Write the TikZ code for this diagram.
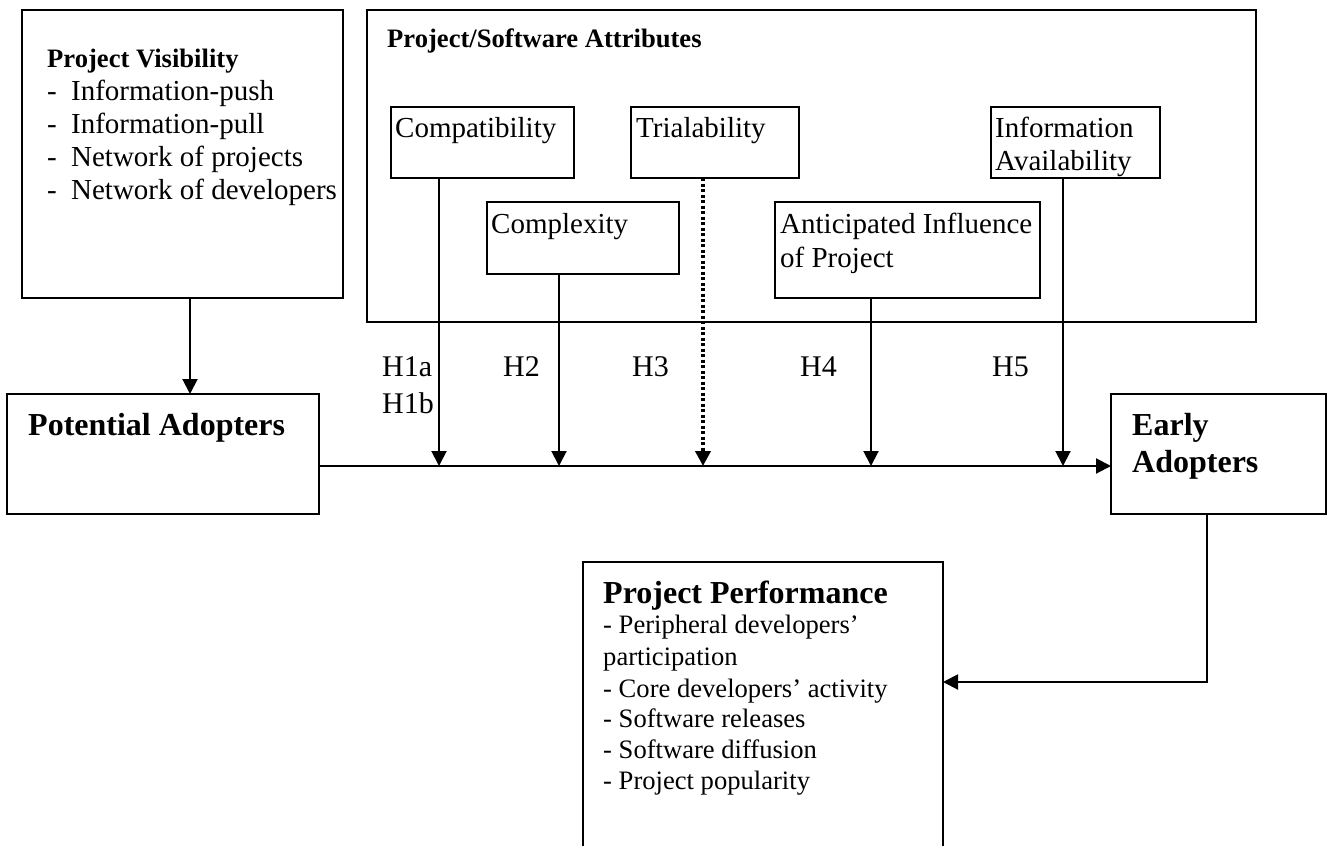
\documentclass[tikz,border=0pt]{standalone}
\usepackage{fontspec}
\setmainfont{Liberation Serif}
\usetikzlibrary{arrows.meta,calc}
\begin{document}
\begin{tikzpicture}[x=1pt,y=-1pt,
  box/.style={draw,line width=2pt,rectangle,inner sep=0pt,outer sep=0pt,anchor=north west},
  txt/.style={inner sep=0pt,anchor=base west,font=\fontsize{29}{33}\selectfont},
  hlab/.style={inner sep=0pt,anchor=base west,font=\fontsize{30}{34}\selectfont},
  small/.style={inner sep=0pt,anchor=base west,font=\fontsize{26.6}{30}\selectfont},
  smallbold/.style={inner sep=0pt,anchor=base west,font=\fontsize{26.6}{30}\selectfont\bfseries},
  bigbold/.style={inner sep=0pt,anchor=base west,font=\fontsize{32}{36}\selectfont\bfseries},
  arr/.style={line width=2pt,-{Triangle[length=15pt,width=15pt]}},
  dotarr/.style={line width=4pt,dash pattern=on 3pt off 2.5pt,-{Triangle[length=15pt,width=15pt]}}
]
\useasboundingbox (0,0) rectangle (1328,846);
\clip (0,0) rectangle (1328,846);

% boxes
\node[box,minimum width=321pt,minimum height=288pt] (pv) at (22,10) {};
\node[box,minimum width=889pt,minimum height=312pt] (psa) at (367,10) {};
\node[box,minimum width=183pt,minimum height=71pt] (compat) at (391,107) {};
\node[box,minimum width=168pt,minimum height=71pt] (trial) at (631,107) {};
\node[box,minimum width=169pt,minimum height=71pt] (info) at (991,107) {};
\node[box,minimum width=192pt,minimum height=72pt] (cplx) at (487,202) {};
\node[box,minimum width=265pt,minimum height=96pt] (antic) at (775,202) {};
\node[box,minimum width=312pt,minimum height=120pt] (pa) at (7,394) {};
\node[box,minimum width=215pt,minimum height=120pt] (ea) at (1111,394) {};
\node[box,minimum width=360pt,minimum height=320pt] (pp) at (583,562) {};

% texts
\node[smallbold] (pvt) at (47,67) {Project Visibility};
\node[txt] (pv1) at (47,100) {\makebox[24pt][l]{-}Information-push};
\node[txt] (pv2) at (47,133) {\makebox[24pt][l]{-}Information-pull};
\node[txt] (pv3) at (47,166) {\makebox[24pt][l]{-}Network of projects};
\node[txt] (pv4) at (47,199) {\makebox[24pt][l]{-}Network of developers};

\node[smallbold] (psat) at (387,47) {Project/Software Attributes};
\node[txt] (compatt) at (395,137) {Compatibility};
\node[txt] (trialt) at (636,137) {Trialability};
\node[txt] (infot1) at (995,137) {Information};
\node[txt] (infot2) at (995,170) {Availability};
\node[txt] (cplxt) at (491,233) {Complexity};
\node[txt] (antict1) at (780,233) {Anticipated Influence};
\node[txt] (antict2) at (780,267) {of Project};

\node[bigbold] (pat) at (28,435) {Potential Adopters};
\node[bigbold] (eat1) at (1132,435) {Early};
\node[bigbold] (eat2) at (1132,472) {Adopters};

\node[hlab] (h1a) at (382,376) {H1a};
\node[hlab] (h1b) at (382,413) {H1b};
\node[hlab] (h2) at (503,376) {H2};
\node[hlab] (h3) at (632,376) {H3};
\node[hlab] (h4) at (800,376) {H4};
\node[hlab] (h5) at (992,376) {H5};

\node[bigbold] (ppt) at (603,603) {Project Performance};
\node[small] (pp1) at (603,633) {- Peripheral developers’};
\node[small] (pp2) at (603,665) {participation};
\node[small] (pp3) at (603,697) {- Core developers’ activity};
\node[small] (pp4) at (603,727) {- Software releases};
\node[small] (pp5) at (603,758) {- Software diffusion};
\node[small] (pp6) at (603,789) {- Project popularity};

% connectors
\coordinate (m1) at (439,466);
\coordinate (m2) at (559,466);
\coordinate (m3) at (703,466);
\coordinate (m4) at (871,466);
\coordinate (m5) at (1063,466);
\coordinate (pvx) at (190,350);
\coordinate (eax) at (1207,682);

\draw[arr] (pa.east |- m1) -- (ea.west |- m1);
\draw[arr] (compat.south -| m1) -- (m1);
\draw[arr] (cplx.south -| m2) -- (m2);
\draw[dotarr] (trial.south -| m3) -- (m3);
\draw[arr] (antic.south -| m4) -- (m4);
\draw[arr] (info.south -| m5) -- (m5);
\draw[arr] (pv.south -| pvx) -- (pa.north -| pvx);
\draw[arr] (ea.south -| eax) -- (eax) -- (pp.east |- eax);
\end{tikzpicture}
\end{document}
